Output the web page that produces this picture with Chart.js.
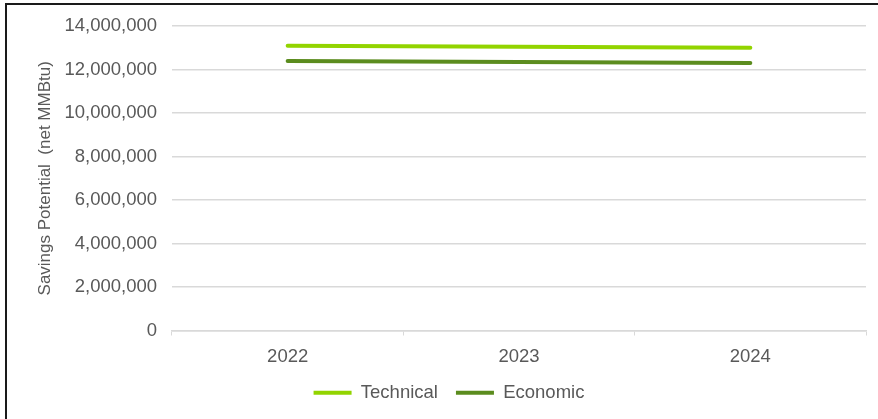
<!DOCTYPE html>
<html lang="en">
<head>
  <meta charset="UTF-8">
  <title>Savings Potential</title>
  <script src="https://cdn.jsdelivr.net/npm/chart.js"></script>
  <style>
    html, body {
      margin: 0;
      padding: 0;
      background: #fff;
      overflow: hidden;
    }

    .wrap {
      position: relative;
      width: 878px;
      height: 419px;
    }

    /* thin frame round the picture, cut off on the right and bottom */
    .frame {
      position: absolute;
      left: 5px;
      top: 3px;
      width: 880px;
      height: 430px;
      border: 2px solid #1a1a1a;
      box-sizing: border-box;
    }

    canvas {
      position: absolute;
      left: 0;
      top: 0;
    }
  </style>
</head>
<body>

<div class="wrap">
  <div class="frame"></div>
  <canvas id="savingsChart" width="878" height="419"></canvas>
</div>

<script>
  // chart data
  const years = ['2022', '2023', '2024'];
  const technical = [13100000, 13050000, 13000000];
  const economic = [12400000, 12350000, 12300000];
  const yTicks = [0, 2000000, 4000000, 6000000, 8000000, 10000000, 12000000, 14000000];

  const textColor = '#595959';
  const gridColor = '#d9d9d9';

  Chart.defaults.font.family = "'Liberation Sans', Arial, sans-serif";
  Chart.defaults.color = textColor;

  const ctx = document.getElementById('savingsChart').getContext('2d');

  const chart = new Chart(ctx, {
    type: 'line',
    data: {
      labels: years,
      datasets: [
        {
          label: 'Technical',
          data: technical,
          borderColor: '#92d400',
          backgroundColor: '#92d400',
          borderWidth: 4,
          borderCapStyle: 'round',
          pointRadius: 0,
          fill: false
        },
        {
          label: 'Economic',
          data: economic,
          borderColor: '#5b8c1e',
          backgroundColor: '#5b8c1e',
          borderWidth: 4,
          borderCapStyle: 'round',
          pointRadius: 0,
          fill: false
        }
      ]
    },
    options: {
      responsive: false,
      animation: false,
      devicePixelRatio: 1,
      layout: {
        padding: { left: 32, right: 12, top: 24, bottom: 7 }
      },
      plugins: {
        tooltip: { enabled: false },
        legend: {
          position: 'bottom',
          labels: {
            boxWidth: 38,
            boxHeight: 4,
            padding: 18,
            color: textColor,
            font: { size: 18.5 },
            generateLabels: (c) => c.data.datasets.map((ds, i) => ({
              text: ds.label,
              fillStyle: ds.borderColor,
              strokeStyle: ds.borderColor,
              lineWidth: 0,
              hidden: false,
              datasetIndex: i,
              fontColor: textColor
            }))
          }
        }
      },
      scales: {
        x: {
          offset: true,
          grid: {
            offset: true,
            drawOnChartArea: false,
            drawTicks: true,
            tickLength: 5,
            color: gridColor
          },
          border: { color: gridColor, width: 1.5 },
          ticks: {
            color: textColor,
            font: { size: 18.5 },
            padding: 10,
            maxRotation: 0
          },
          afterFit: (scale) => { scale.height = 35; }
        },
        y: {
          min: 0,
          max: 14000000,
          afterBuildTicks: (scale) => {
            scale.ticks = yTicks.map(v => ({ value: v }));
          },
          grid: {
            color: gridColor,
            lineWidth: 1.5,
            drawTicks: false
          },
          border: { display: false },
          ticks: {
            color: textColor,
            font: { size: 18.5 },
            padding: 15,
            callback: (v) => Number(v).toLocaleString('en-US')
          },
          title: {
            display: true,
            text: 'Savings Potential  (net MMBtu)',
            color: textColor,
            font: { size: 17 },
            padding: { top: 3, bottom: 0 }
          },
          afterFit: (scale) => { scale.width = 140; }
        }
      }
    }
  });
</script>

</body>
</html>
